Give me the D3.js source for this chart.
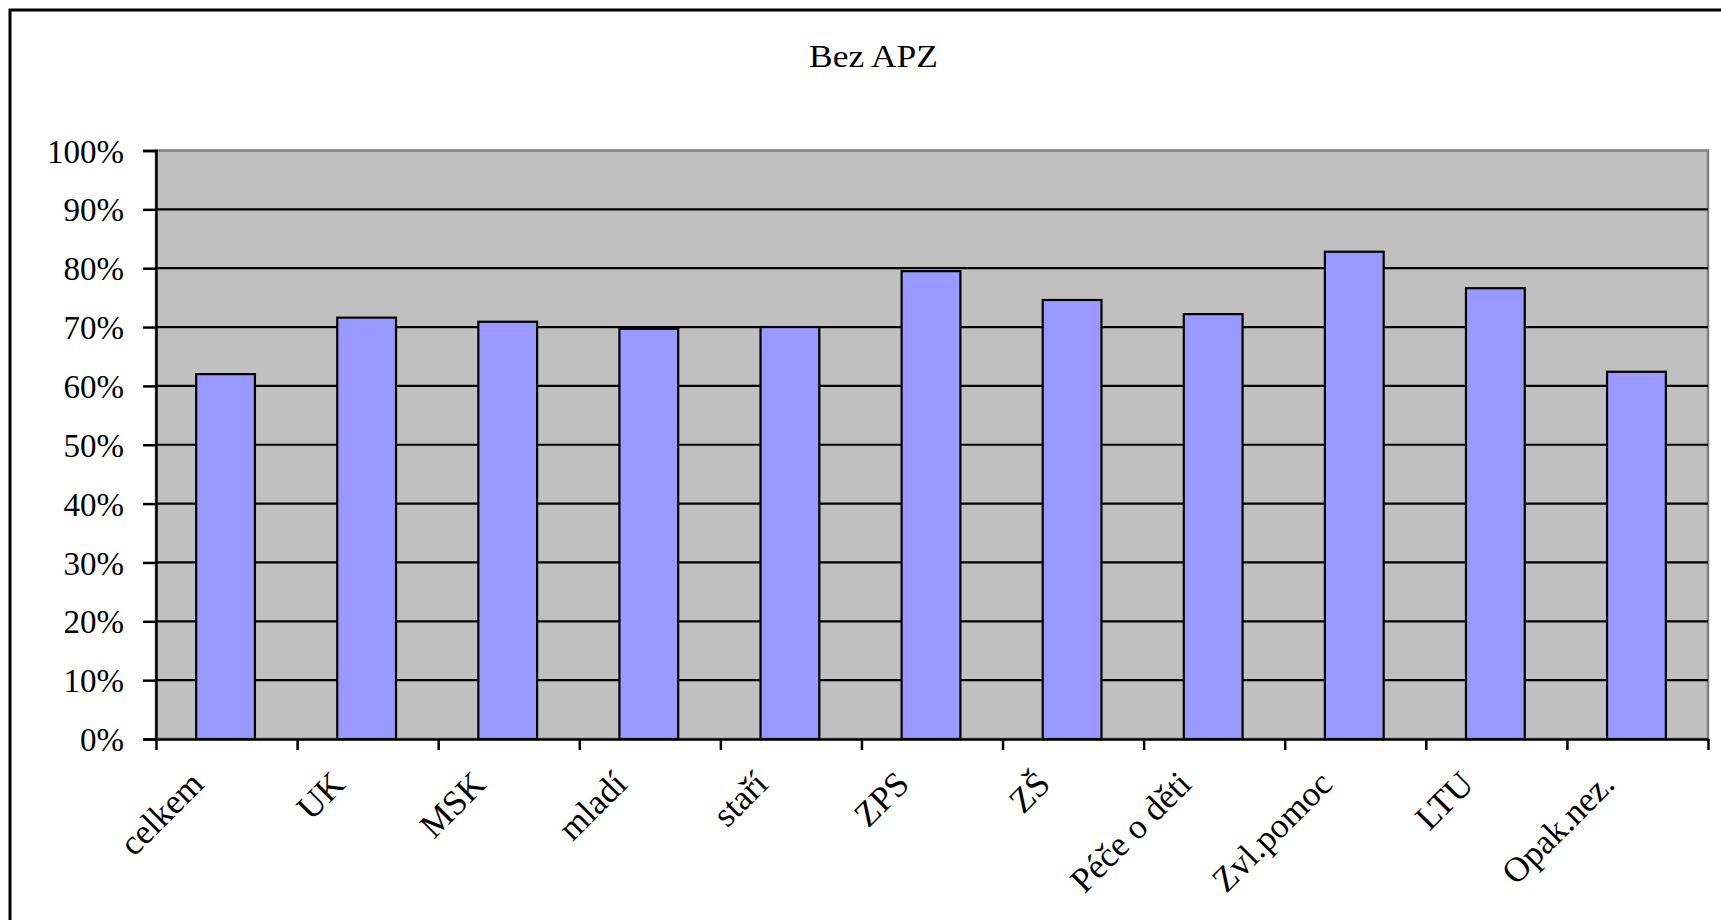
<!DOCTYPE html>
<html>
<head>
<meta charset="utf-8">
<script src="https://cdn.jsdelivr.net/npm/d3@7"></script>
<style>
  html, body { margin: 0; padding: 0; background: #fff; }
  svg { display: block; }
  text { font-family: "Liberation Serif", "Times New Roman", serif; fill: #000; }
</style>
</head>
<body>
<svg id="chart" width="1721" height="920"></svg>
<script>
const title = "Bez APZ";
const categories = ["celkem", "UK", "MSK", "mladí", "staří", "ZPS", "ZŠ", "Péče o děti", "Zvl.pomoc", "LTU", "Opak.nez."];
const values = [0.620, 0.716, 0.709, 0.697, 0.700, 0.795, 0.746, 0.722, 0.828, 0.766, 0.624];
const yTicks = [0, 0.1, 0.2, 0.3, 0.4, 0.5, 0.6, 0.7, 0.8, 0.9, 1.0];

const svg = d3.select("#chart");
const W = 1721, H = 920;
const plot = { left: 156, right: 1708, top: 150.5, bottom: 739 };

svg.append("rect").attr("x", 0).attr("y", 0).attr("width", W).attr("height", H).attr("fill", "#fff");
// outer chart frame
svg.append("rect").attr("x", 10).attr("y", 10).attr("width", 1780).attr("height", 1000)
  .attr("fill", "none").attr("stroke", "#000").attr("stroke-width", 3);

const x = d3.scaleBand().domain(categories).range([plot.left, plot.right]).padding(0);
const xi = d3.scaleLinear().domain([0, categories.length]).range([plot.left, plot.right]);
const y = d3.scaleLinear().domain([0, 1]).range([plot.bottom, plot.top]);

// plot area
svg.append("rect").attr("x", plot.left).attr("y", plot.top)
  .attr("width", plot.right - plot.left).attr("height", plot.bottom - plot.top)
  .attr("fill", "#C0C0C0").attr("stroke", "#808080").attr("stroke-width", 2.5);

// gridlines
svg.append("g").selectAll("line").data(yTicks.filter(t => t > 0 && t < 1)).join("line")
  .attr("x1", plot.left).attr("x2", plot.right)
  .attr("y1", d => y(d)).attr("y2", d => y(d))
  .attr("stroke", "#000").attr("stroke-width", 2.2);

// bars
const barW = x.bandwidth() / 2.4;
svg.append("g").selectAll("rect").data(values).join("rect")
  .attr("x", (d, i) => x(categories[i]) + (x.bandwidth() - barW) / 2 - 1)
  .attr("y", d => y(d))
  .attr("width", barW)
  .attr("height", d => y(0) - y(d))
  .attr("fill", "#9999FF").attr("stroke", "#000").attr("stroke-width", 2.2);

// y axis
const yAxis = svg.append("g").attr("transform", `translate(${plot.left},0)`)
  .call(d3.axisLeft(y).tickValues(yTicks).tickFormat(d3.format(".0%")).tickSize(13).tickPadding(19));
yAxis.select(".domain").attr("stroke", "#000").attr("stroke-width", 2.5);
yAxis.selectAll(".tick line").attr("stroke", "#000").attr("stroke-width", 2.5);
yAxis.selectAll(".tick text").attr("font-size", 33).attr("font-family", "Liberation Serif, Times New Roman, serif")
  .attr("dy", "0.35em");

// x axis
const xAxis = svg.append("g").attr("transform", `translate(0,${plot.bottom})`)
  .call(d3.axisBottom(xi).tickValues(d3.range(categories.length + 1)).tickFormat("").tickSize(11).tickSizeOuter(0));
xAxis.select(".domain").attr("stroke", "#000").attr("stroke-width", 2.5);
xAxis.selectAll(".tick line").attr("stroke", "#000").attr("stroke-width", 2.5);

// category labels
svg.append("g").selectAll("text").data(categories).join("text")
  .attr("transform", d => `translate(${x(d) + x.bandwidth() / 2 - 21},${plot.bottom + 47}) rotate(-45)`)
  .attr("text-anchor", "end")
  .attr("font-size", 35)
  .text(d => d);

// title
svg.append("text")
  .attr("x", 873.5).attr("y", 67)
  .attr("text-anchor", "middle")
  .attr("font-size", 31)
  .attr("textLength", 129).attr("lengthAdjust", "spacingAndGlyphs")
  .text(title);
</script>
</body>
</html>
